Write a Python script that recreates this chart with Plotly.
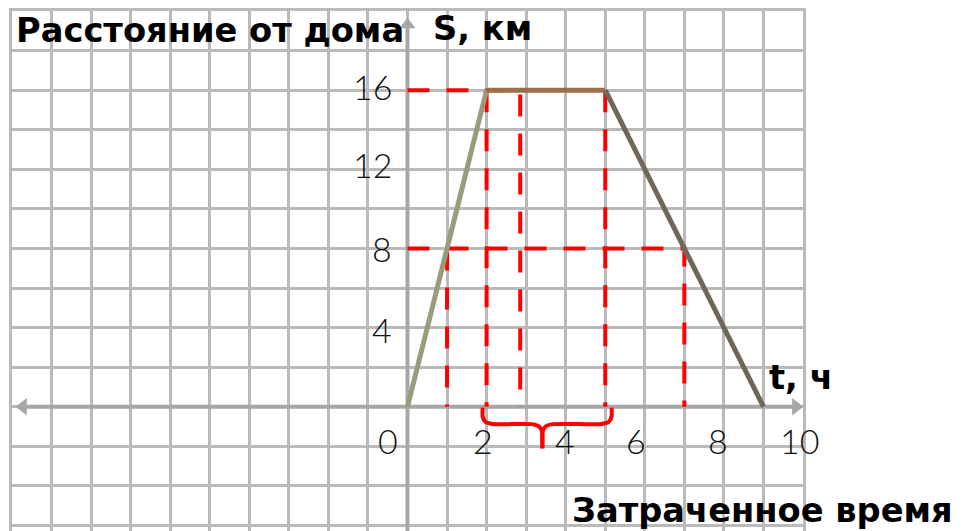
import plotly.graph_objects as go

# ---- data ----
t_path = [0, 2, 5, 9]          # hours
s_path = [0, 16, 16, 0]        # km
seg_colors = ["#9b9a7b", "#9a7049", "#6f6858"]

# red dashed helper lines
dash_paths_t = [[0, 2.85, 2.85], [2, 2], [5, 5], [0, 7, 7], [1, 1]]
dash_paths_s = [[16, 16, 0], [16, 0], [16, 0], [8, 8, 0], [8, 0]]

# brace under the time axis
brace_left_t = [1.9, 1.9, 1.98, 2.2, 3.15, 3.33, 3.41, 3.41]
brace_left_s = [-0.05, -0.5, -0.78, -0.88, -0.88, -1.0, -1.3, -2.1]
brace_right_t = [5.16, 5.16, 5.08, 4.86, 3.67, 3.49, 3.41, 3.41]
brace_right_s = [-0.05, -0.5, -0.78, -0.88, -0.88, -1.0, -1.3, -2.1]

x_tick_labels = ["0", "2", "4", "6", "8", "10"]
x_label_pos = [-0.5, 1.92, 3.99, 5.79, 7.84, 9.91]
y_tick_labels = ["16", "12", "8", "4"]
y_label_pos = [16.18, 12.26, 7.99, 3.92]

T_MIN, T_MAX = -10, 10
S_MIN, S_MAX = -6.28, 20

GRID = "#bababa"
AXIS = "#a7a7a7"
RED = "#ff0000"

fig = go.Figure()

# axes lines
fig.add_trace(go.Scatter(x=[-9.8, 9.9], y=[0, 0], mode="lines",
                         line=dict(color=AXIS, width=4), hoverinfo="skip"))
fig.add_trace(go.Scatter(x=[0, 0], y=[S_MIN, 19.4], mode="lines",
                         line=dict(color=AXIS, width=4), hoverinfo="skip"))
fig.add_trace(go.Scatter(x=[-9.72, 9.82], y=[0, 0], mode="markers",
                         marker=dict(symbol=["triangle-left", "triangle-right"],
                                     size=15, color=AXIS), hoverinfo="skip"))
fig.add_trace(go.Scatter(x=[0], y=[19.3], mode="markers",
                         marker=dict(symbol="triangle-up", size=14, color=AXIS),
                         hoverinfo="skip"))

# red dashed lines
for tt, ss in zip(dash_paths_t, dash_paths_s):
    fig.add_trace(go.Scatter(x=tt, y=ss, mode="lines",
                             line=dict(color=RED, width=4, dash="22px,17px"),
                             hoverinfo="skip"))

# distance-time graph segments
for i in range(len(t_path) - 1):
    fig.add_trace(go.Scatter(x=t_path[i:i + 2], y=s_path[i:i + 2], mode="lines",
                             line=dict(color=seg_colors[i], width=5),
                             hoverinfo="skip"))

# brace
for bt, bs in ((brace_left_t, brace_left_s), (brace_right_t, brace_right_s)):
    fig.add_trace(go.Scatter(x=bt, y=bs, mode="lines",
                             line=dict(color=RED, width=4, shape="spline", smoothing=0.6),
                             hoverinfo="skip"))

NUM_FONT = dict(family="Lato, Noto Sans, sans-serif", size=34, color="#111111", weight=300)
BOLD_FONT = dict(family="DejaVu Sans, Noto Sans, sans-serif", size=33.7, color="#000000", weight=700)

anns = []
for lab, xp in zip(x_tick_labels, x_label_pos):
    anns.append(dict(x=xp, y=-1.71, text=lab, showarrow=False, font=NUM_FONT,
                     xanchor="center", yanchor="middle"))
for lab, yp in zip(y_tick_labels, y_label_pos):
    anns.append(dict(x=-0.35, y=yp, text=lab, showarrow=False, font=NUM_FONT,
                     xanchor="right", yanchor="middle"))

anns.append(dict(x=-9.96, y=19.0, text="Расстояние от дома", showarrow=False,
                 font=BOLD_FONT, xanchor="left", yanchor="middle"))
anns.append(dict(x=1.9, y=19.1, text="S, км", showarrow=False,
                 font=BOLD_FONT, xanchor="center", yanchor="middle"))
anns.append(dict(x=9.08, y=1.46, text="t, ч", showarrow=False,
                 font=BOLD_FONT, xanchor="left", yanchor="middle"))
anns.append(dict(xref="paper", x=1.192, y=-5.23, text="Затраченное время", showarrow=False,
                 font=BOLD_FONT, xanchor="right", yanchor="middle"))

# the page body has an 8px default margin, so shift the figure by -8px
fig.update_layout(
    width=955, height=523,
    margin=dict(l=4, r=160, t=0, b=0),
    paper_bgcolor="white", plot_bgcolor="white",
    showlegend=False,
    annotations=anns,
    xaxis=dict(range=[T_MIN, T_MAX], dtick=1, tick0=0, showgrid=True,
               gridcolor=GRID, gridwidth=2.5, zeroline=False,
               showticklabels=False, ticks="", showline=True, mirror=True,
               linecolor=GRID, linewidth=2.5, fixedrange=True),
    yaxis=dict(range=[S_MIN, S_MAX], dtick=2, tick0=0, showgrid=True,
               gridcolor=GRID, gridwidth=2.5, zeroline=False,
               showticklabels=False, ticks="", showline=True, mirror=True,
               linecolor=GRID, linewidth=2.5, fixedrange=True),
)

fig.write_html("out.html", config=dict(displayModeBar=False))
